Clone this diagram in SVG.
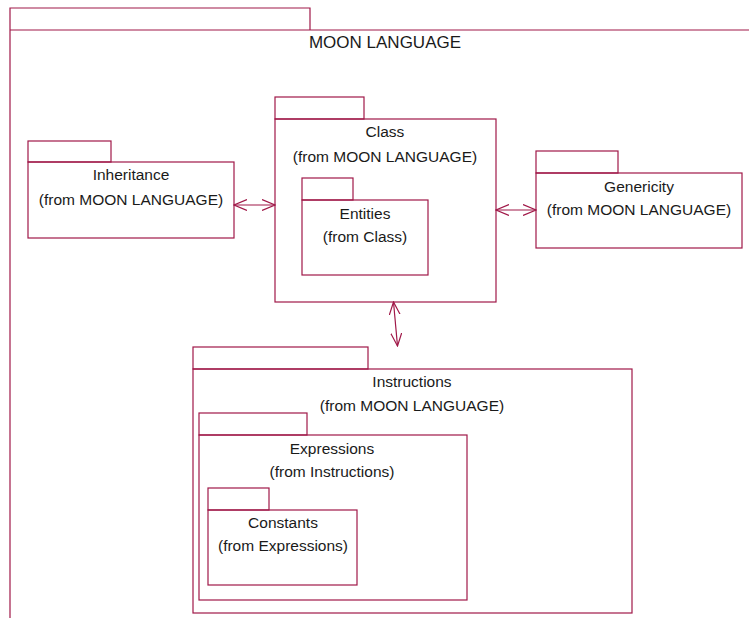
<svg xmlns="http://www.w3.org/2000/svg" width="749" height="618" viewBox="0 0 749 618">
  <style>
    .pkg { fill: none; stroke: #a01848; stroke-width: 1.2; }
    .lbl { font-family: "Liberation Sans", Arial, sans-serif; font-size: 15.5px; fill: #1a1a1a; text-anchor: middle; }
    .title { font-size: 17px; }
    .conn { fill: none; stroke: #a01848; stroke-width: 1.2; }
  </style>
  <defs>
    <marker id="open" viewBox="0 0 14 12" refX="13" refY="6" markerWidth="14" markerHeight="12" markerUnits="userSpaceOnUse" orient="auto-start-reverse">
      <path d="M0,0.5 L13,6 L0,11.5" fill="none" stroke="#a01848" stroke-width="1.2"/>
    </marker>
  </defs>

  <!-- top-level package -->
  <g id="moon-language">
    <path class="pkg" d="M10,618 V8 H310 V30"/>
    <path class="pkg" d="M10,30 H749"/>
    <text class="lbl title" x="385" y="48">MOON LANGUAGE</text>
  </g>

  <g id="inheritance">
    <rect class="pkg" x="28" y="141" width="83" height="21"/>
    <rect class="pkg" x="28" y="162" width="206" height="76"/>
    <text class="lbl" x="131" y="180">Inheritance</text>
    <text class="lbl" x="131" y="205">(from MOON LANGUAGE)</text>
  </g>

  <g id="class">
    <rect class="pkg" x="275" y="97" width="89" height="22"/>
    <rect class="pkg" x="275" y="119" width="221" height="183"/>
    <text class="lbl" x="385" y="137">Class</text>
    <text class="lbl" x="385" y="162">(from MOON LANGUAGE)</text>
    <g id="entities">
      <rect class="pkg" x="302" y="178" width="51" height="22"/>
      <rect class="pkg" x="302" y="200" width="126" height="75"/>
      <text class="lbl" x="365" y="219">Entities</text>
      <text class="lbl" x="365" y="242">(from Class)</text>
    </g>
  </g>

  <g id="genericity">
    <rect class="pkg" x="536" y="151" width="82" height="22"/>
    <rect class="pkg" x="536" y="173" width="206" height="75"/>
    <text class="lbl" x="639" y="192">Genericity</text>
    <text class="lbl" x="639" y="215">(from MOON LANGUAGE)</text>
  </g>

  <g id="instructions">
    <rect class="pkg" x="193" y="347" width="175" height="22"/>
    <rect class="pkg" x="193" y="369" width="439" height="244"/>
    <text class="lbl" x="412" y="387">Instructions</text>
    <text class="lbl" x="412" y="411">(from MOON LANGUAGE)</text>
    <g id="expressions">
      <rect class="pkg" x="199" y="413" width="108" height="22"/>
      <rect class="pkg" x="199" y="435" width="268" height="165"/>
      <text class="lbl" x="332" y="454">Expressions</text>
      <text class="lbl" x="332" y="477">(from Instructions)</text>
      <g id="constants">
        <rect class="pkg" x="208" y="488" width="61" height="22"/>
        <rect class="pkg" x="208" y="510" width="149" height="75"/>
        <text class="lbl" x="283" y="528">Constants</text>
        <text class="lbl" x="283" y="551">(from Expressions)</text>
      </g>
    </g>
  </g>

  <g id="connectors">
    <line class="conn" x1="234" y1="205" x2="275" y2="205" marker-start="url(#open)" marker-end="url(#open)"/>
    <line class="conn" x1="496" y1="210" x2="536" y2="210" marker-start="url(#open)" marker-end="url(#open)"/>
    <line class="conn" x1="393.5" y1="302" x2="397.5" y2="346" marker-start="url(#open)" marker-end="url(#open)"/>
  </g>
</svg>
